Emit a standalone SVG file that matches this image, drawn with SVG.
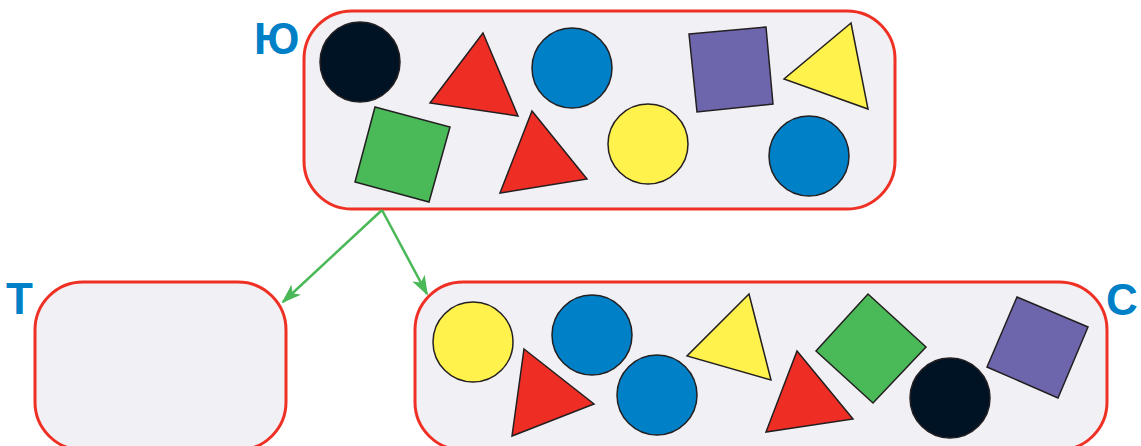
<svg xmlns="http://www.w3.org/2000/svg" width="1141" height="446" viewBox="0 0 1141 446">
<defs>
<style>
.box{fill:#f1f0f5;stroke:#ee3124;stroke-width:3}
.lbl{font-family:"Liberation Sans",Arial,sans-serif;font-weight:bold;font-size:44px;fill:#0080c6}
.sh{stroke:#231f20;stroke-width:1.5;stroke-linejoin:miter}
.red{fill:#ee2e24}.blue{fill:#0080c6}.yel{fill:#fff24c}.grn{fill:#4aba58}.pur{fill:#6e66ad}.blk{fill:#001325}
.conn{stroke:#4ab857;stroke-width:2.5;fill:none}
</style>
<marker id="arr" viewBox="0 0 20 14" refX="18" refY="7" markerWidth="20" markerHeight="14" markerUnits="userSpaceOnUse" orient="auto">
<path d="M0,0 L20,7 L0,14 L5,7 Z" fill="#4ab857"/>
</marker>
</defs>
<g id="node-yu">
<rect class="box" x="304" y="11" width="591" height="198" rx="48"/>
<text class="lbl" x="254" y="54">Ю</text>
<circle class="sh blk" cx="360" cy="62" r="40"/>
<polygon class="sh red" points="483,33 430,103 518,116"/>
<circle class="sh blue" cx="572" cy="68" r="40"/>
<polygon class="sh grn" points="375,107 450,127 429,202 355,182"/>
<polygon class="sh red" points="532,111 587,179 500,193"/>
<circle class="sh yel" cx="648" cy="144" r="40"/>
<polygon class="sh pur" points="689,34 766,27 773,104 697,112"/>
<polygon class="sh yel" points="851,23 784,79 868,109"/>
<circle class="sh blue" cx="809" cy="156" r="40"/>
</g>
<g id="node-t">
<rect class="box" x="35" y="282" width="251" height="168" rx="48"/>
<text class="lbl" x="6" y="314">Т</text>
</g>
<g id="node-s">
<rect class="box" x="415" y="282" width="692" height="168" rx="48"/>
<text class="lbl" x="1106" y="315">С</text>
<circle class="sh yel" cx="473" cy="342" r="40"/>
<polygon class="sh red" points="524,349 594,404 512,436"/>
<circle class="sh blue" cx="592" cy="335" r="40"/>
<circle class="sh blue" cx="657" cy="395" r="40"/>
<polygon class="sh yel" points="749,294 687,356 771,380"/>
<polygon class="sh red" points="797,351 853,419 766,432"/>
<polygon class="sh grn" points="868,294 926,347 873,403 816,351"/>
<circle class="sh blk" cx="950" cy="398" r="40"/>
<polygon class="sh pur" points="1017,297 1088,327 1058,398 987,367"/>
</g>
<g id="connectors">
<line class="conn" x1="382" y1="210" x2="283" y2="302" marker-end="url(#arr)"/>
<line class="conn" x1="382" y1="210" x2="427" y2="294" marker-end="url(#arr)"/>
</g>
</svg>
